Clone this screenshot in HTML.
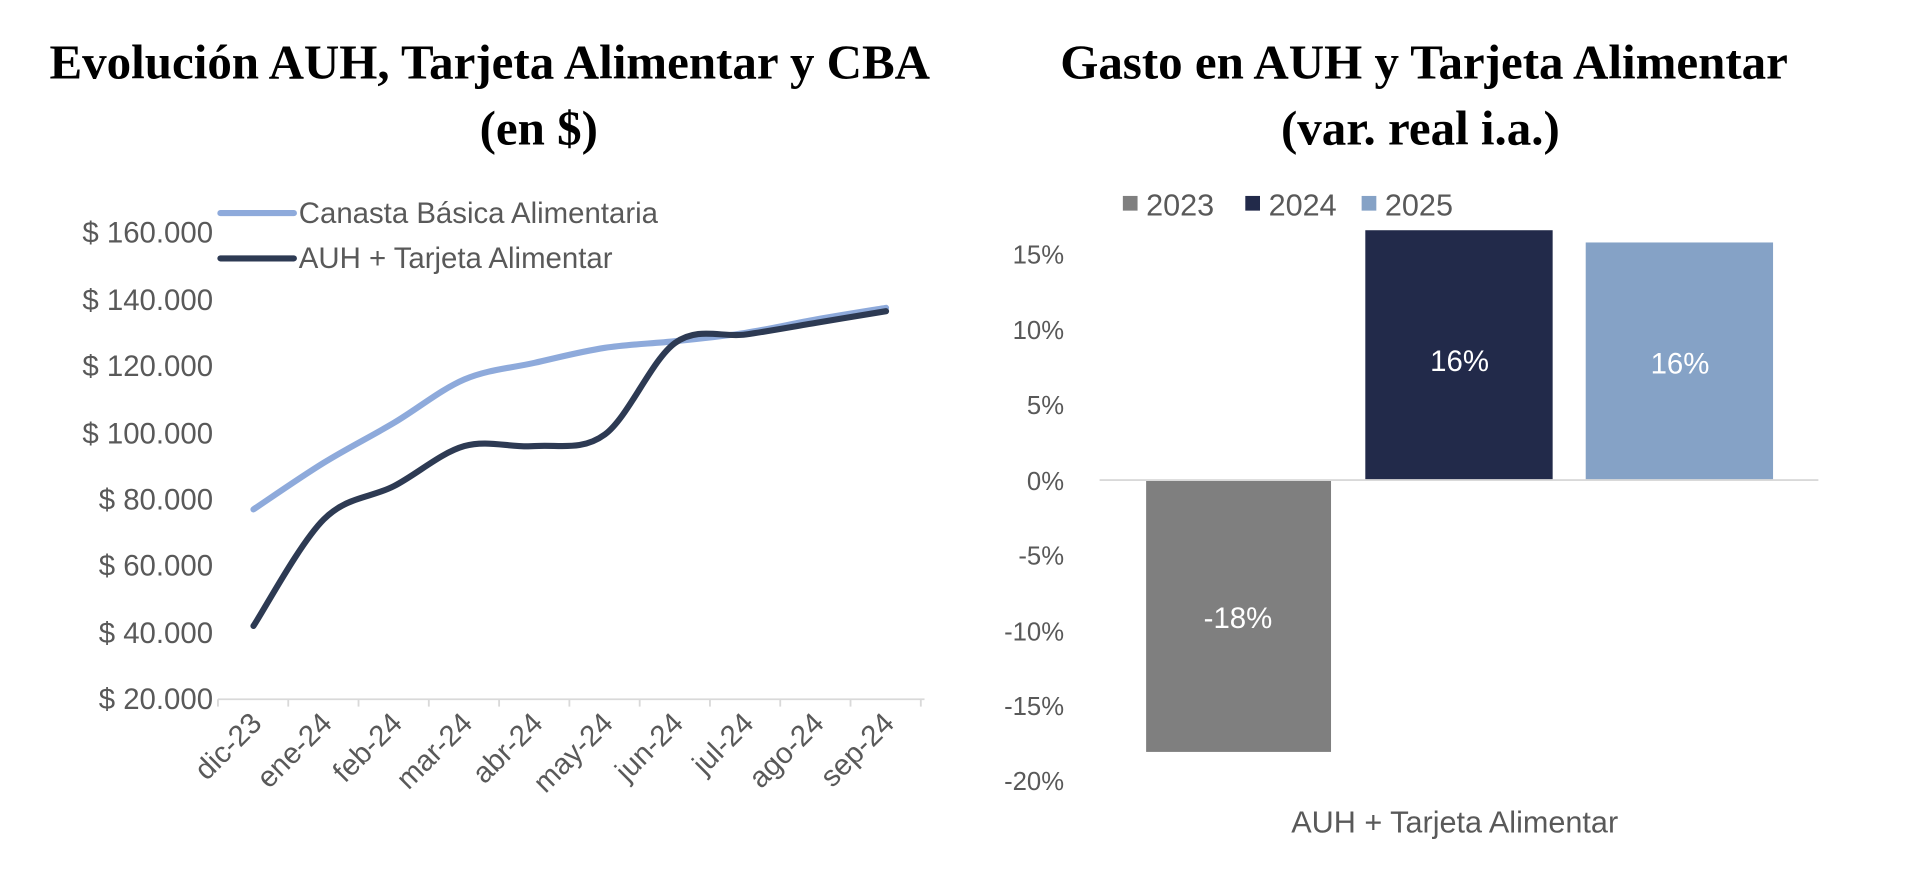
<!DOCTYPE html>
<html><head><meta charset="utf-8"><style>
html,body{margin:0;padding:0;background:#fff;width:1920px;height:886px;overflow:hidden}
svg{display:block}
.t{font-family:"Liberation Serif",serif;font-weight:bold;font-size:40px;fill:#000}
.l{font-family:"Liberation Sans",sans-serif;font-size:24px;fill:#595959}
.r{font-family:"Liberation Sans",sans-serif;font-size:21px;fill:#595959}
.g{font-family:"Liberation Sans",sans-serif;font-size:25px;fill:#595959}
.w{font-family:"Liberation Sans",sans-serif;font-size:24px;fill:#fff}
</style></head><body>
<svg id="s" width="1920" height="886" viewBox="0 0 1568 723.5" preserveAspectRatio="none" xmlns="http://www.w3.org/2000/svg">
<text class="t" x="400" y="64" text-anchor="middle">Evolución AUH, Tarjeta Alimentar y CBA</text>
<text class="t" x="440" y="118" text-anchor="middle">(en $)</text>
<g class="l" text-anchor="end">
<text x="174" y="198">$ 160.000</text>
<text x="174" y="253">$ 140.000</text>
<text x="174" y="307">$ 120.000</text>
<text x="174" y="362">$ 100.000</text>
<text x="174" y="416">$ 80.000</text>
<text x="174" y="470">$ 60.000</text>
<text x="174" y="525">$ 40.000</text>
<text x="174" y="579">$ 20.000</text>
</g>
<line x1="178" y1="571" x2="755" y2="571" stroke="#d9d9d9" stroke-width="1.5"/>
<g id="ticks" stroke="#d9d9d9" stroke-width="1.5"></g>
<g id="xl" class="l"></g>
<line x1="180" y1="174" x2="240" y2="174" stroke="#8eaadb" stroke-width="5" stroke-linecap="round"/>
<line x1="180" y1="211" x2="240" y2="211" stroke="#2d3a53" stroke-width="5" stroke-linecap="round"/>
<text class="l" x="244" y="182">Canasta Básica Alimentaria</text>
<text class="l" x="244" y="219">AUH + Tarjeta Alimentar</text>
<path id="cba" fill="none" stroke="#8eaadb" stroke-width="5" stroke-linecap="round"/>
<path id="auh" fill="none" stroke="#2d3a53" stroke-width="5" stroke-linecap="round"/>

<text class="t" x="1163" y="64" text-anchor="middle">Gasto en AUH y Tarjeta Alimentar</text>
<text class="t" x="1160" y="118" text-anchor="middle">(var. real i.a.)</text>
<rect x="917" y="160" width="12" height="12" fill="#7f7f7f"/>
<text class="g" x="936" y="176">2023</text>
<rect x="1017" y="160" width="12" height="12" fill="#222a4a"/>
<text class="g" x="1036" y="176">2024</text>
<rect x="1112" y="160" width="12" height="12" fill="#85a2c6"/>
<text class="g" x="1131" y="176">2025</text>
<g class="r" text-anchor="end">
<text x="869" y="215">15%</text>
<text x="869" y="277">10%</text>
<text x="869" y="338">5%</text>
<text x="869" y="400">0%</text>
<text x="869" y="461">-5%</text>
<text x="869" y="523">-10%</text>
<text x="869" y="584">-15%</text>
<text x="869" y="645">-20%</text>
</g>
<rect x="936" y="392" width="151" height="222" fill="#7f7f7f"/>
<rect x="1115" y="188" width="153" height="204" fill="#222a4a"/>
<rect x="1295" y="198" width="153" height="194" fill="#85a2c6"/>
<line x1="898" y1="392" x2="1485" y2="392" stroke="#d9d9d9" stroke-width="1.5"/>
<text class="w" x="1192" y="303" text-anchor="middle">16%</text>
<text class="w" x="1372" y="305" text-anchor="middle">16%</text>
<text class="w" x="1011" y="513" text-anchor="middle">-18%</text>
<text class="g" x="1188" y="680" text-anchor="middle">AUH + Tarjeta Alimentar</text>
</svg>
<script>
var X=function(i){return 207+57.4*i},Y=function(v){return 571-(v-20)/20*54.4};
function path(vals){var p=vals.map(function(v,i){return [X(i),Y(v)]});var d="M"+p[0][0]+","+p[0][1];
for(var i=0;i<p.length-1;i++){var p0=p[i-1]||p[i],p1=p[i],p2=p[i+1],p3=p[i+2]||p2;
d+=" C"+(p1[0]+(p2[0]-p0[0])/6)+","+(p1[1]+(p2[1]-p0[1])/6)+" "+(p2[0]-(p3[0]-p1[0])/6)+","+(p2[1]-(p3[1]-p1[1])/6)+" "+p2[0]+","+p2[1];}return d;}
document.getElementById("cba").setAttribute("d",path([77,91,103,116,121,125.5,127.5,130,134,137.5]));
document.getElementById("auh").setAttribute("d",path([42,74,84,96,96,99.5,127,129.5,133,136.5]));
var ns="http://www.w3.org/2000/svg",tg=document.getElementById("ticks"),xl=document.getElementById("xl");
var labs=["dic-23","ene-24","feb-24","mar-24","abr-24","may-24","jun-24","jul-24","ago-24","sep-24"];
for(var i=0;i<=10;i++){var l=document.createElementNS(ns,"line");var x=178+57.4*i;l.setAttribute("x1",x);l.setAttribute("x2",x);l.setAttribute("y1",571);l.setAttribute("y2",577);tg.appendChild(l);}
labs.forEach(function(s,i){var t=document.createElementNS(ns,"text");var x=X(i)+8,y=592;t.setAttribute("x",x);t.setAttribute("y",y);t.setAttribute("text-anchor","end");t.setAttribute("transform","rotate(-45 "+x+" "+y+")");t.textContent=s;xl.appendChild(t);});
</script>
</body></html>
